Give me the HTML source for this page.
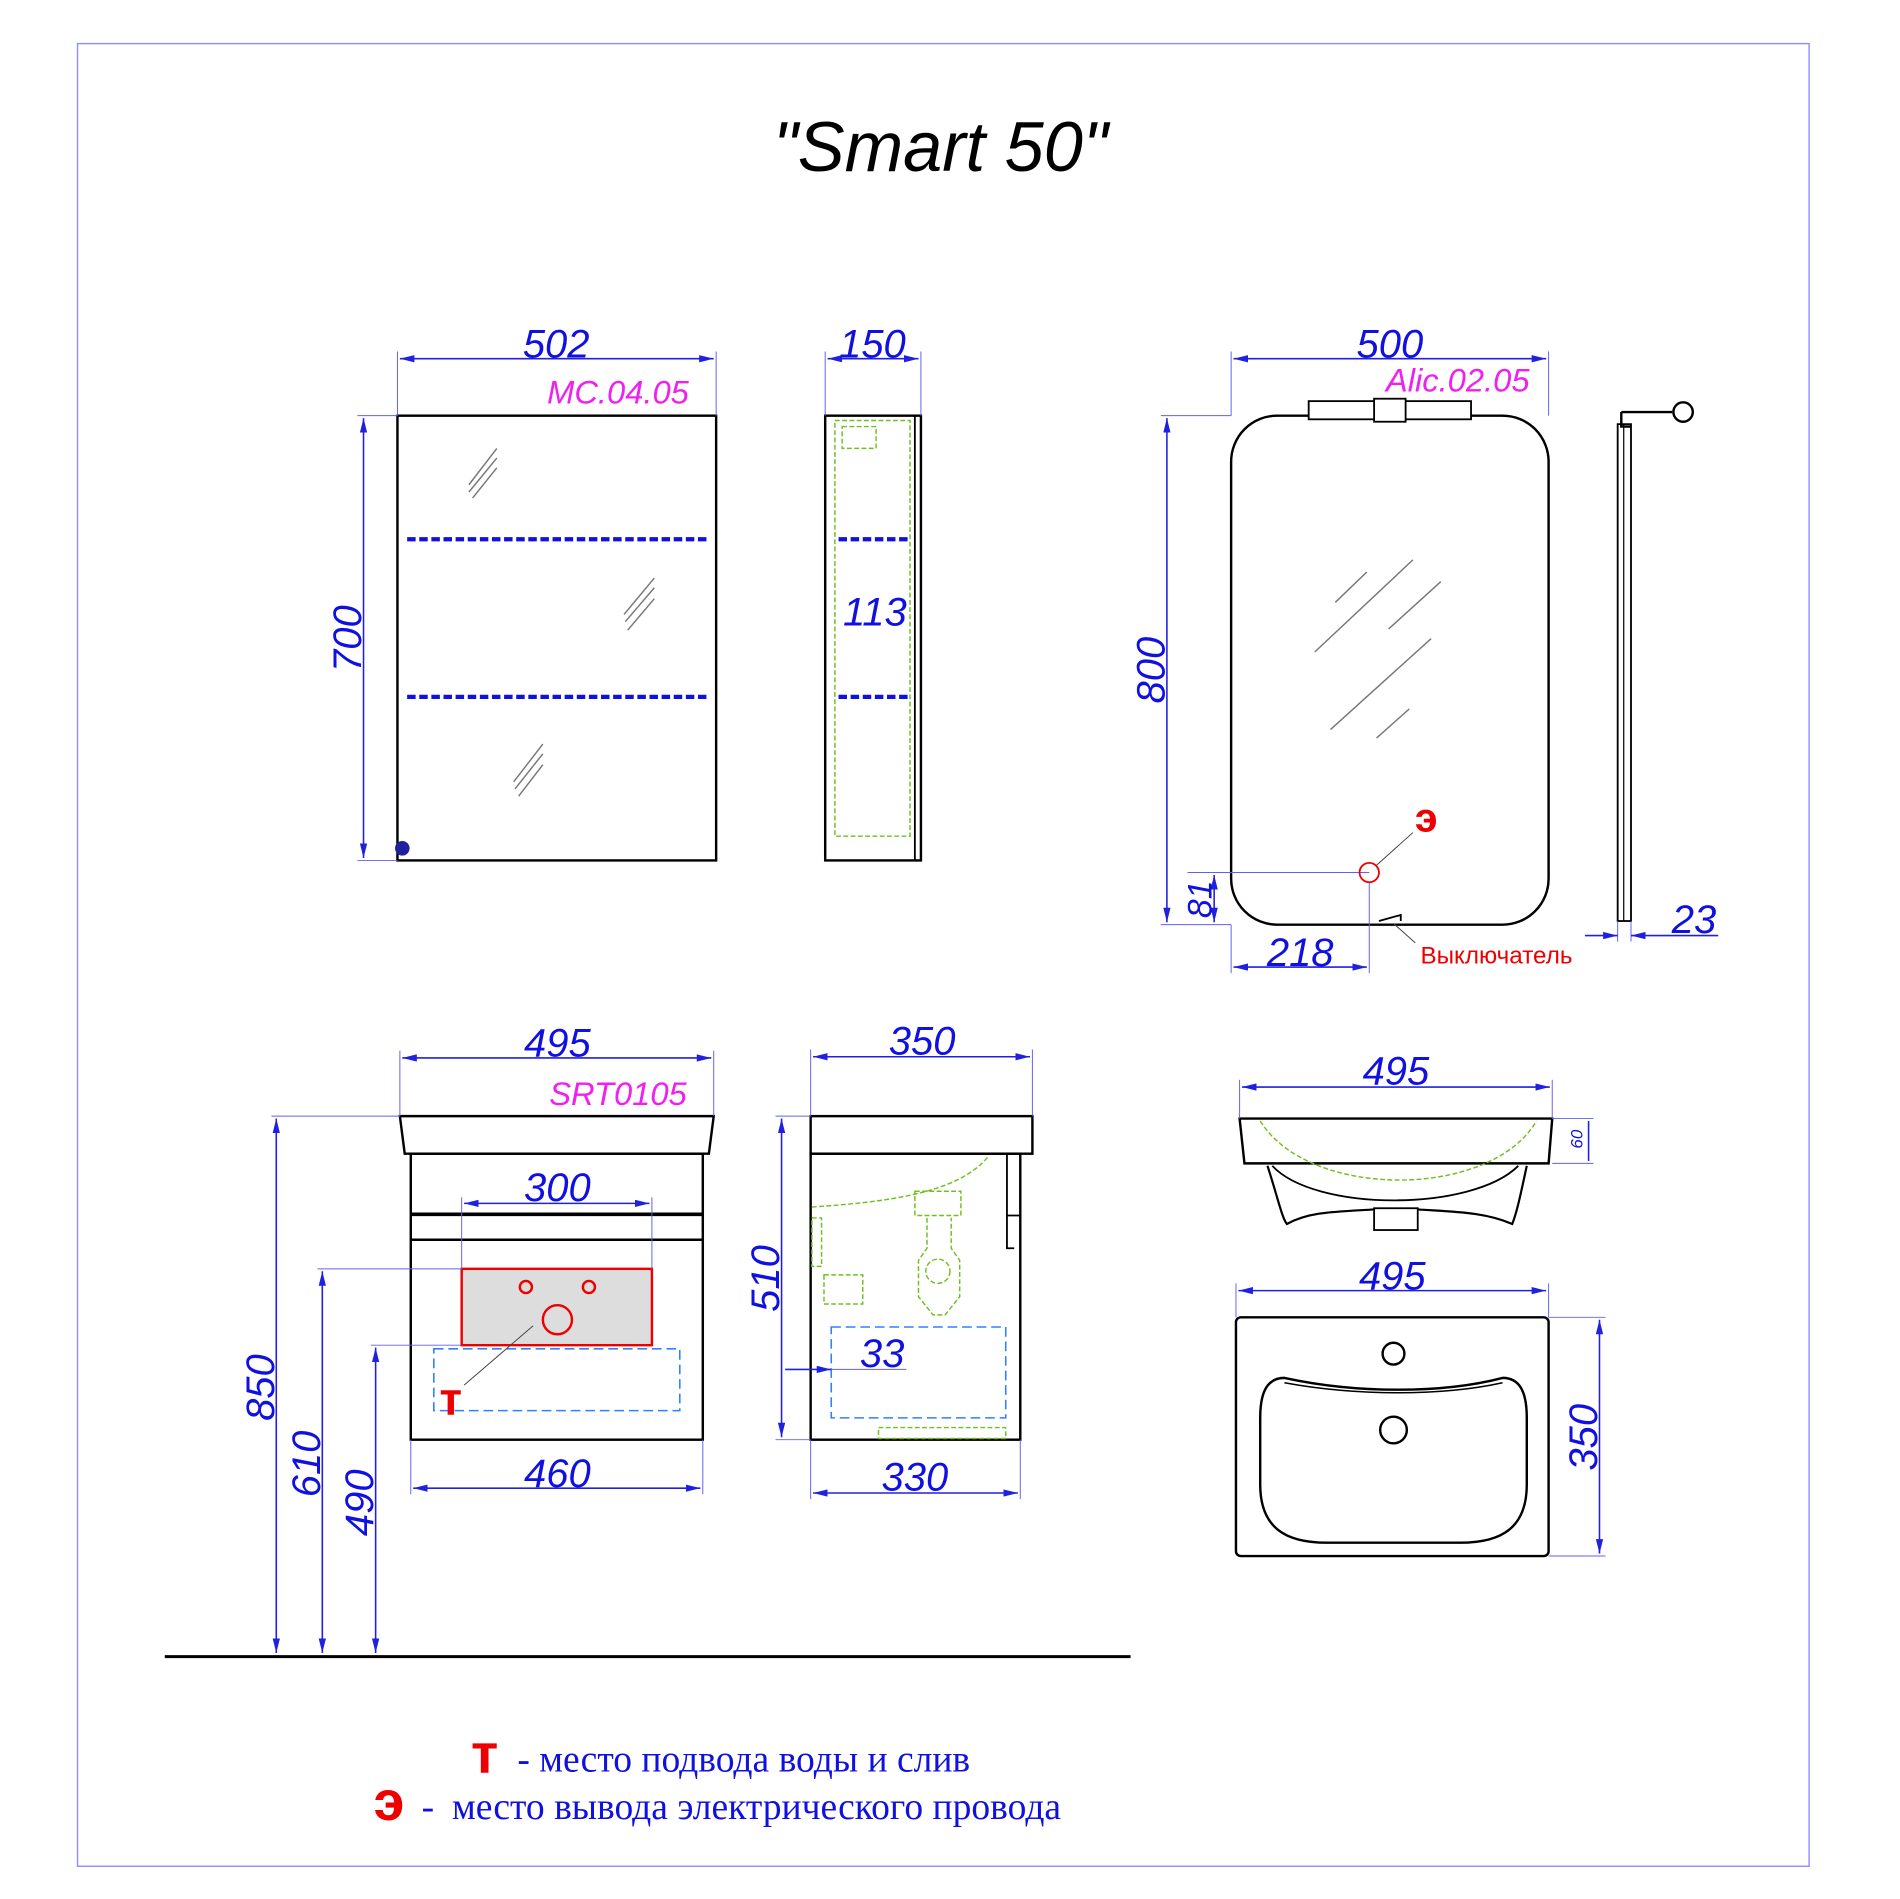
<!DOCTYPE html>
<html><head><meta charset="utf-8"><style>
html,body{margin:0;padding:0;background:#fff;}
svg{display:block;}
.d{font-family:"Liberation Sans",sans-serif;font-style:italic;fill:#1010e0;font-size:33px;text-anchor:middle;}
.m{font-family:"Liberation Sans",sans-serif;font-style:italic;fill:#f020f0;font-size:27px;text-anchor:middle;}
.dl{stroke:#2020e0;stroke-width:1.3;fill:none;}
.ex{stroke:#6060f0;stroke-width:0.8;fill:none;}
.k{stroke:#000;stroke-width:2;fill:none;}
.g{stroke:#70c020;stroke-width:1.2;fill:none;stroke-dasharray:4 2;}
.h{stroke:#777;stroke-width:1.2;}
</style></head><body>
<svg width="1900" height="1899" viewBox="0 0 1568 1567" preserveAspectRatio="none" xmlns="http://www.w3.org/2000/svg">
<defs>
<marker id="a" viewBox="0 0 12 6" refX="12" refY="3" markerWidth="12" markerHeight="6" orient="auto-start-reverse" markerUnits="userSpaceOnUse"><path d="M0,0L12,3L0,6z" fill="#2020e0"/></marker>
</defs>
<rect x="64" y="36" width="1429" height="1504" fill="none" stroke="#9090ff" stroke-width="1.2"/>
<text x="776" y="141" font-family="Liberation Sans,sans-serif" font-style="italic" font-size="58" text-anchor="middle">"Smart 50"</text>

<!-- Cabinet front -->
<rect x="328" y="343" width="263" height="367" class="k"/>
<line x1="336" y1="445" x2="583" y2="445" stroke="#1010e0" stroke-width="3.5" stroke-dasharray="7 3"/>
<line x1="336" y1="575" x2="583" y2="575" stroke="#1010e0" stroke-width="3.5" stroke-dasharray="7 3"/>
<g class="h"><line x1="387" y1="400" x2="410" y2="370"/><line x1="387" y1="406" x2="410" y2="378"/><line x1="390" y1="411" x2="410" y2="386"/>
<line x1="515" y1="507" x2="540" y2="477"/><line x1="516" y1="513" x2="540" y2="485"/><line x1="518" y1="520" x2="540" y2="494"/>
<line x1="424" y1="645" x2="448" y2="614"/><line x1="425" y1="651" x2="448" y2="622"/><line x1="428" y1="657" x2="448" y2="631"/></g>
<circle cx="332" cy="700" r="6" fill="#2020a0"/>
<line x1="328" y1="343" x2="328" y2="290" class="ex"/><line x1="591" y1="343" x2="591" y2="290" class="ex"/>
<line x1="330" y1="296" x2="589" y2="296" class="dl" marker-start="url(#a)" marker-end="url(#a)"/>
<text x="459" y="295" class="d">502</text>
<text x="510" y="333" class="m">MC.04.05</text>
<line x1="328" y1="343" x2="295" y2="343" class="ex"/><line x1="328" y1="710" x2="295" y2="710" class="ex"/>
<line x1="300" y1="345" x2="300" y2="708" class="dl" marker-start="url(#a)" marker-end="url(#a)"/>
<text class="d" transform="translate(298,527) rotate(-90)">700</text>

<!-- Cabinet side -->
<rect x="681" y="343" width="79" height="367" class="k"/>
<line x1="755" y1="343" x2="755" y2="710" stroke="#000" stroke-width="1.5"/>
<rect x="689" y="347" width="62" height="343" class="g"/>
<rect x="695" y="352" width="28" height="18" class="g"/>
<line x1="692" y1="445" x2="752" y2="445" stroke="#1010e0" stroke-width="3.5" stroke-dasharray="7 3"/>
<line x1="692" y1="575" x2="752" y2="575" stroke="#1010e0" stroke-width="3.5" stroke-dasharray="7 3"/>
<line x1="681" y1="343" x2="681" y2="290" class="ex"/><line x1="760" y1="343" x2="760" y2="290" class="ex"/>
<line x1="683" y1="296" x2="758" y2="296" class="dl" marker-start="url(#a)" marker-end="url(#a)"/>
<text x="720" y="295" class="d">150</text>
<text x="722" y="516" class="d">113</text>

<!-- Mirror -->
<rect x="1016" y="343" width="262" height="420" rx="38" class="k"/>
<rect x="1080" y="331" width="134" height="15" fill="#fff" stroke="#000" stroke-width="1.5"/>
<rect x="1134" y="329" width="26" height="19" fill="#fff" stroke="#000" stroke-width="1.5"/>
<g class="h"><line x1="1102" y1="497" x2="1128" y2="472"/><line x1="1085" y1="538" x2="1166" y2="462"/><line x1="1146" y1="519" x2="1189" y2="480"/><line x1="1098" y1="602" x2="1181" y2="527"/><line x1="1136" y1="609" x2="1163" y2="585"/></g>
<line x1="1016" y1="343" x2="1016" y2="290" class="ex"/><line x1="1278" y1="343" x2="1278" y2="290" class="ex"/>
<line x1="1018" y1="296" x2="1276" y2="296" class="dl" marker-start="url(#a)" marker-end="url(#a)"/>
<text x="1147" y="295" class="d">500</text>
<text x="1203" y="323" class="m">Alic.02.05</text>
<line x1="1016" y1="343" x2="958" y2="343" class="ex"/><line x1="1016" y1="763" x2="958" y2="763" class="ex"/>
<line x1="963" y1="345" x2="963" y2="761" class="dl" marker-start="url(#a)" marker-end="url(#a)"/>
<text class="d" transform="translate(961,553) rotate(-90)">800</text>
<line x1="980" y1="720" x2="1130" y2="720" class="ex"/>
<line x1="1002" y1="722" x2="1002" y2="761" class="dl" marker-start="url(#a)" marker-end="url(#a)"/>
<text class="d" style="font-size:28px" transform="translate(1000,742) rotate(-90)">81</text>
<line x1="1016" y1="763" x2="1016" y2="803" class="ex"/><line x1="1130" y1="728" x2="1130" y2="803" class="ex"/>
<line x1="1018" y1="798" x2="1128" y2="798" class="dl" marker-start="url(#a)" marker-end="url(#a)"/>
<text x="1073" y="797" class="d">218</text>
<circle cx="1130" cy="720" r="8" fill="none" stroke="#e00" stroke-width="1.5"/>
<line x1="1136" y1="714" x2="1166" y2="687" stroke="#444" stroke-width="0.8"/>
<text x="1177" y="686" font-family="Liberation Sans,sans-serif" font-weight="bold" font-size="34" fill="#e00" text-anchor="middle">э</text>
<path d="M1138,760 L1156,755 L1156,760" fill="none" stroke="#000" stroke-width="1.5"/>
<line x1="1150" y1="762" x2="1168" y2="778" stroke="#444" stroke-width="0.8"/>
<text x="1235" y="795" font-family="Liberation Sans,sans-serif" font-size="20" fill="#e00" text-anchor="middle">Выключатель</text>
<!-- mirror profile -->
<rect x="1335" y="350" width="11" height="410" fill="none" stroke="#000" stroke-width="1.5"/>
<line x1="1340" y1="350" x2="1340" y2="760" stroke="#000" stroke-width="1"/>
<path d="M1338,340 L1380,340 M1338,340 L1338,352 L1346,352" fill="none" stroke="#000" stroke-width="2"/>
<circle cx="1389" cy="340" r="8" fill="#fff" stroke="#000" stroke-width="2"/>
<line x1="1335" y1="760" x2="1335" y2="777" class="ex"/><line x1="1346" y1="760" x2="1346" y2="777" class="ex"/>
<line x1="1308" y1="772" x2="1335" y2="772" class="dl" marker-end="url(#a)"/>
<line x1="1418" y1="772" x2="1346" y2="772" class="dl" marker-end="url(#a)"/>
<text x="1398" y="770" class="d">23</text>

<!-- Vanity front -->
<path d="M330,921 L589,921 L585,952 L334,952 Z" class="k"/>
<rect x="339" y="952" width="241" height="236" class="k"/>
<line x1="339" y1="1002" x2="580" y2="1002" stroke="#000" stroke-width="3"/>
<line x1="339" y1="1023" x2="580" y2="1023" stroke="#000" stroke-width="2"/>
<rect x="381" y="1047" width="157" height="63" fill="#ddd" stroke="#e00" stroke-width="2"/>
<circle cx="434" cy="1062" r="5" fill="none" stroke="#e00" stroke-width="2"/>
<circle cx="486" cy="1062" r="5" fill="none" stroke="#e00" stroke-width="2"/>
<circle cx="460" cy="1089" r="12" fill="none" stroke="#e00" stroke-width="2"/>
<rect x="358" y="1113" width="203" height="51" fill="none" stroke="#3080ff" stroke-width="1.3" stroke-dasharray="8 4"/>
<line x1="440" y1="1094" x2="383" y2="1143" stroke="#444" stroke-width="0.8"/>
<text x="372" y="1167" font-family="Liberation Sans,sans-serif" font-weight="bold" font-size="38" fill="#e00" text-anchor="middle">т</text>
<line x1="330" y1="921" x2="330" y2="867" class="ex"/><line x1="589" y1="921" x2="589" y2="867" class="ex"/>
<line x1="332" y1="873" x2="587" y2="873" class="dl" marker-start="url(#a)" marker-end="url(#a)"/>
<text x="460" y="872" class="d">495</text>
<text x="510" y="912" class="m">SRT0105</text>
<line x1="381" y1="1047" x2="381" y2="988" class="ex"/><line x1="538" y1="1047" x2="538" y2="988" class="ex"/>
<line x1="383" y1="993" x2="536" y2="993" class="dl" marker-start="url(#a)" marker-end="url(#a)"/>
<text x="460" y="991" class="d">300</text>
<line x1="339" y1="1188" x2="339" y2="1233" class="ex"/><line x1="580" y1="1188" x2="580" y2="1233" class="ex"/>
<line x1="341" y1="1228" x2="578" y2="1228" class="dl" marker-start="url(#a)" marker-end="url(#a)"/>
<text x="460" y="1227" class="d">460</text>
<line x1="224" y1="921" x2="330" y2="921" class="ex"/>
<line x1="262" y1="1047" x2="381" y2="1047" class="ex"/>
<line x1="306" y1="1110" x2="381" y2="1110" class="ex"/>
<line x1="228" y1="923" x2="228" y2="1364" class="dl" marker-start="url(#a)" marker-end="url(#a)"/>
<line x1="266" y1="1049" x2="266" y2="1364" class="dl" marker-start="url(#a)" marker-end="url(#a)"/>
<line x1="310" y1="1112" x2="310" y2="1364" class="dl" marker-start="url(#a)" marker-end="url(#a)"/>
<text class="d" transform="translate(226,1145) rotate(-90)">850</text>
<text class="d" transform="translate(264,1208) rotate(-90)">610</text>
<text class="d" transform="translate(308,1240) rotate(-90)">490</text>
<line x1="136" y1="1367" x2="933" y2="1367" stroke="#000" stroke-width="2.5"/>

<!-- Vanity side -->
<rect x="669" y="921" width="183" height="31" class="k"/>
<rect x="669" y="952" width="173" height="236" class="k"/>
<path d="M831,952 L831,1003 L842,1003 M831,1003 L831,1030 L837,1030" fill="none" stroke="#000" stroke-width="1.5"/>
<path d="M670,996 C730,992 790,985 815,955" class="g"/>
<rect x="755" y="983" width="38" height="20" class="g"/>
<path d="M765,1005 L765,1030 L758,1040 L758,1070 L770,1085 L780,1085 L792,1070 L792,1040 L785,1030 L785,1005" class="g"/>
<circle cx="774" cy="1049" r="10" class="g"/>
<rect x="680" y="1052" width="32" height="24" class="g"/>
<rect x="670" y="1005" width="8" height="40" class="g"/>
<rect x="725" y="1178" width="105" height="9" class="g"/>
<rect x="686" y="1095" width="144" height="75" fill="none" stroke="#3080ff" stroke-width="1.3" stroke-dasharray="8 4"/>
<line x1="669" y1="921" x2="669" y2="866" class="ex"/><line x1="852" y1="921" x2="852" y2="866" class="ex"/>
<line x1="671" y1="872" x2="850" y2="872" class="dl" marker-start="url(#a)" marker-end="url(#a)"/>
<text x="761" y="870" class="d">350</text>
<line x1="640" y1="921" x2="669" y2="921" class="ex"/><line x1="640" y1="1188" x2="669" y2="1188" class="ex"/>
<line x1="645" y1="923" x2="645" y2="1186" class="dl" marker-start="url(#a)" marker-end="url(#a)"/>
<text class="d" transform="translate(643,1055) rotate(-90)">510</text>
<line x1="648" y1="1130" x2="686" y2="1130" class="dl" marker-end="url(#a)"/>
<line x1="748" y1="1130" x2="686" y2="1130" class="ex"/>
<text x="728" y="1128" class="d">33</text>
<line x1="669" y1="1188" x2="669" y2="1237" class="ex"/><line x1="842" y1="1188" x2="842" y2="1237" class="ex"/>
<line x1="671" y1="1232" x2="840" y2="1232" class="dl" marker-start="url(#a)" marker-end="url(#a)"/>
<text x="755" y="1230" class="d">330</text>

<!-- Basin side view -->
<path d="M1023,923 L1281,923 L1278,960 L1027,960 Z" class="k"/>
<path d="M1046,962 C1055,990 1058,1005 1062,1010 C1080,1000 1100,1000 1134,998 L1170,998 C1200,1000 1225,1000 1248,1010 C1252,1000 1255,985 1260,962" fill="none" stroke="#000" stroke-width="1.8"/>
<path d="M1050,962 C1085,1000 1215,1000 1253,962" fill="none" stroke="#000" stroke-width="1.5"/>
<rect x="1134" y="997" width="36" height="18" fill="#fff" stroke="#000" stroke-width="1.5"/>
<path d="M1040,925 C1080,990 1230,990 1268,925" class="g"/>
<line x1="1023" y1="923" x2="1023" y2="891" class="ex"/><line x1="1281" y1="923" x2="1281" y2="891" class="ex"/>
<line x1="1025" y1="897" x2="1279" y2="897" class="dl" marker-start="url(#a)" marker-end="url(#a)"/>
<text x="1152" y="895" class="d">495</text>
<line x1="1281" y1="923" x2="1315" y2="923" class="ex"/><line x1="1281" y1="960" x2="1315" y2="960" class="ex"/>
<line x1="1311" y1="925" x2="1311" y2="958" class="dl"/>
<text x="1308" y="942" font-family="Liberation Sans,sans-serif" font-style="italic" font-size="14" fill="#1010e0" text-anchor="middle" transform="rotate(-90 1306 942)">60</text>

<!-- Basin top view -->
<rect x="1020" y="1087" width="258" height="197" rx="4" class="k"/>
<path d="M1060,1137 C1120,1150 1190,1150 1240,1137 C1255,1137 1260,1150 1260,1170 L1260,1225 C1260,1260 1240,1273 1205,1273 L1095,1273 C1060,1273 1040,1260 1040,1225 L1040,1170 C1040,1150 1045,1137 1060,1137 Z" class="k"/>
<path d="M1060,1141 C1120,1152 1190,1152 1240,1141" fill="none" stroke="#000" stroke-width="1.2"/>
<circle cx="1150" cy="1117" r="9" class="k"/>
<circle cx="1150" cy="1180" r="11" class="k"/>
<line x1="1020" y1="1087" x2="1020" y2="1059" class="ex"/><line x1="1278" y1="1087" x2="1278" y2="1059" class="ex"/>
<line x1="1022" y1="1065" x2="1276" y2="1065" class="dl" marker-start="url(#a)" marker-end="url(#a)"/>
<text x="1149" y="1064" class="d">495</text>
<line x1="1278" y1="1087" x2="1325" y2="1087" class="ex"/><line x1="1278" y1="1284" x2="1325" y2="1284" class="ex"/>
<line x1="1320" y1="1089" x2="1320" y2="1282" class="dl" marker-start="url(#a)" marker-end="url(#a)"/>
<text class="d" transform="translate(1318,1186) rotate(-90)">350</text>

<!-- Legend -->
<text x="400" y="1463" font-family="Liberation Sans,sans-serif" font-weight="bold" font-size="46" fill="#e00" text-anchor="middle">т</text>
<text x="427" y="1462" font-family="Liberation Serif,serif" font-size="31" fill="#1010e0">- место подвода воды и слив</text>
<text x="321" y="1502" font-family="Liberation Sans,sans-serif" font-weight="bold" font-size="46" fill="#e00" text-anchor="middle">э</text>
<text x="348" y="1501" font-family="Liberation Serif,serif" font-size="31" fill="#1010e0">-</text>
<text x="373" y="1501" font-family="Liberation Serif,serif" font-size="31" fill="#1010e0">место вывода электрического провода</text>
</svg>
</body></html>
